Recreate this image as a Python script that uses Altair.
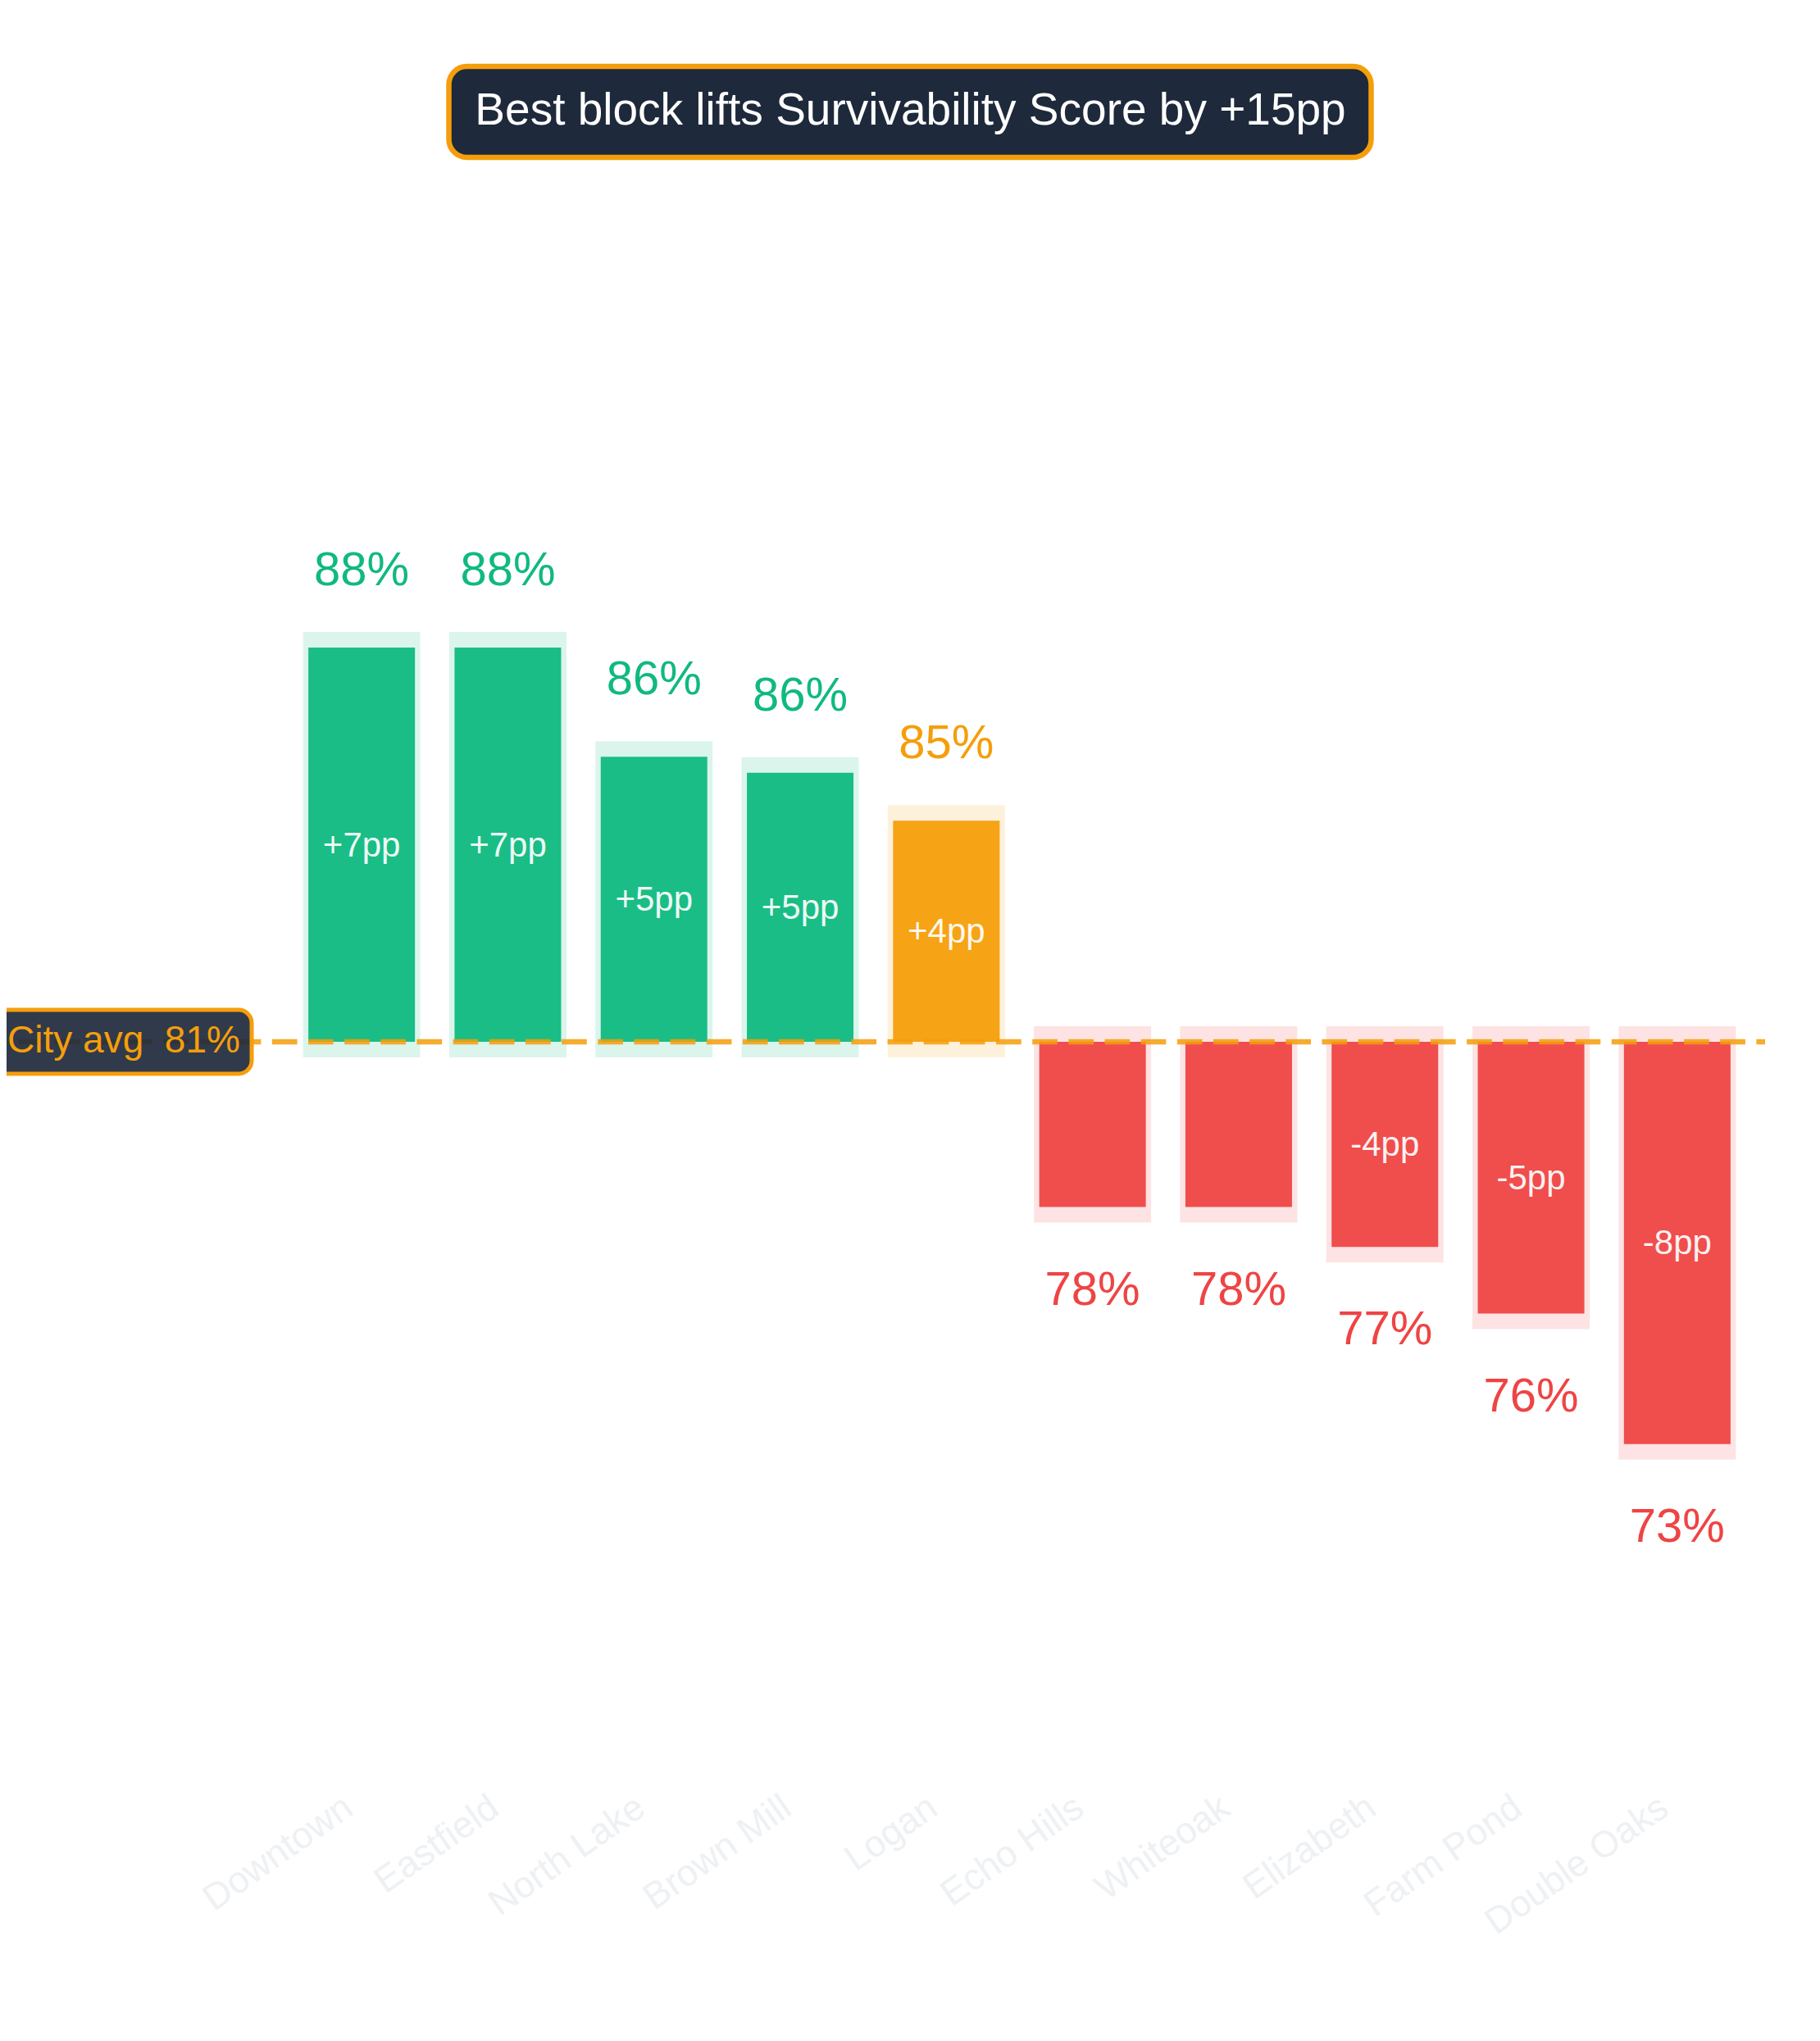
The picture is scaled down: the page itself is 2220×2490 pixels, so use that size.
import altair as alt
import pandas as pd

# neighbourhood survivability scores (%)
neighborhoods = ["Downtown", "Eastfield", "North Lake", "Brown Mill", "Logan",
                 "Echo Hills", "Whiteoak", "Elizabeth", "Farm Pond", "Double Oaks"]
scores = [88.0, 88.0, 85.95, 85.65, 84.75, 77.5, 77.5, 76.75, 75.5, 73.05]
tones = ["up", "up", "up", "up", "mid", "down", "down", "down", "down", "down"]
city_avg = 80.6
headline = "Best block lifts Survivability Score by +15pp"

tone_domain = ["up", "mid", "down"]
tone_colors = ["#10B981", "#F59E0B", "#EF4444"]

FONT = "Liberation Sans"
NAVY = "#1E293B"
AMBER = "#F59E0B"

df = pd.DataFrame({"hood": neighborhoods, "score": scores, "tone": tones})
df["avg"] = city_avg
avg_df = pd.DataFrame({"avg": [city_avg]})
title_df = pd.DataFrame({"title": [headline]})

x_enc = alt.X(
    "hood:N", sort=neighborhoods, title=None,
    scale=alt.Scale(range=[344, 2127], paddingInner=0, paddingOuter=0),
    axis=alt.Axis(labelAngle=-35, labelAlign="right", labelBaseline="middle",
                  labelFont=FONT, labelFontSize=45, labelColor="#EEF1F4",
                  labelPadding=10, labelOffset=-16, labelLimit=0,
                  domain=False, ticks=False, grid=False))
y_scale = alt.Scale(domain=[70, 90], range=[1952, 652], zero=False, nice=False)
tone_color = alt.Color("tone:N", legend=None,
                       scale=alt.Scale(domain=tone_domain, range=tone_colors))

base = alt.Chart(df).transform_calculate(
    delta="datum.score - datum.avg",
    hi="max(datum.score, datum.avg)",
    lo="min(datum.score, datum.avg)",
    mid="(datum.score + datum.avg) / 2",
    pct="round(datum.score) + '%'",
    pp="(datum.score >= datum.avg ? '+' : '') + round(datum.score - datum.avg) + 'pp'",
)

halo = base.mark_bar(size=143, opacity=0.15, yOffset=-19, y2Offset=19).encode(
    x=x_enc, y=alt.Y("hi:Q", scale=y_scale, axis=None), y2="lo:Q", color=tone_color)

bars = base.mark_bar(size=130, opacity=0.95).encode(
    x=x_enc, y=alt.Y("score:Q", scale=y_scale, axis=None), y2="avg:Q", color=tone_color)

avg_line = alt.Chart(avg_df).mark_rule(
    color=AMBER, opacity=0.85, strokeWidth=6.5, strokeDash=[30.7, 13.46]
).encode(y=alt.Y("avg:Q", scale=y_scale, axis=None),
         x=alt.value(14.7), x2=alt.value(2145))

top_labels = base.transform_filter("datum.delta >= 0").mark_text(
    font=FONT, fontSize=58, baseline="alphabetic", dy=-76
).encode(x=x_enc, y=alt.Y("score:Q", scale=y_scale, axis=None),
         text="pct:N", color=tone_color)

bottom_labels = base.transform_filter("datum.delta < 0").mark_text(
    font=FONT, fontSize=58, baseline="alphabetic", dy=119
).encode(x=x_enc, y=alt.Y("score:Q", scale=y_scale, axis=None),
         text="pct:N", color=tone_color)

inner_labels = base.transform_filter("abs(datum.delta) >= 3.5").mark_text(
    font=FONT, fontSize=42, baseline="alphabetic", dy=14, color="white", opacity=0.92
).encode(x=x_enc, y=alt.Y("mid:Q", scale=y_scale, axis=None), text="pp:N")

avg_box = alt.Chart(avg_df).mark_rect(
    fill=NAVY, fillOpacity=0.92, stroke=AMBER, strokeWidth=5, cornerRadius=16,
    yOffset=-39, y2Offset=39
).encode(y=alt.Y("avg:Q", scale=y_scale, axis=None), y2="avg:Q",
         x=alt.value(-30), x2=alt.value(299))

avg_text = alt.Chart(avg_df).transform_calculate(
    label="'City avg\u00a0\u00a0' + round(datum.avg) + '%'"
).mark_text(font=FONT, fontSize=46, color=AMBER, align="center",
            baseline="alphabetic", dy=13
).encode(y=alt.Y("avg:Q", scale=y_scale, axis=None), x=alt.value(143), text="label:N")

title_box = alt.Chart(title_df).mark_rect(
    fill=NAVY, stroke=AMBER, strokeWidth=6.5, cornerRadius=22
).encode(x=alt.value(539.5), x2=alt.value(1664.5), y=alt.value(73), y2=alt.value(184))

title_text = alt.Chart(title_df).mark_text(
    font=FONT, fontSize=55, color="white", align="center", baseline="alphabetic"
).encode(x=alt.value(1102.5), y=alt.value(144), text="title:N")

chart = alt.layer(
    halo, bars, avg_line, top_labels, bottom_labels, inner_labels,
    avg_box, avg_text, title_box, title_text
).properties(
    width=2204, height=2182,
    autosize=alt.AutoSizeParams(type="none"),
    padding={"left": 0, "top": 0, "right": 0, "bottom": 292},
    background="white",
).configure_view(stroke=None)

chart.save("out.html", embed_options={"renderer": "svg", "actions": False})
